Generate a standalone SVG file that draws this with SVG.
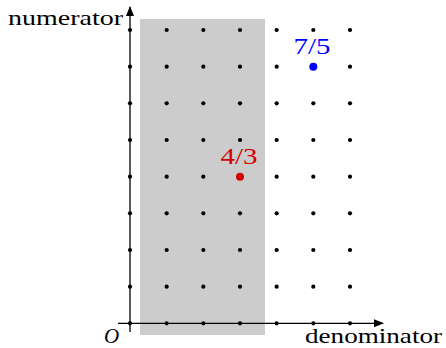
<svg xmlns="http://www.w3.org/2000/svg" width="446" height="348" viewBox="0 0 446 348">
<style>
.lbl{font-family:'Liberation Serif','Times New Roman','DejaVu Serif',serif;font-size:21px;fill:#000}
.frac{font-family:'Liberation Serif','Times New Roman','DejaVu Serif',serif;font-size:24px}
.axis{stroke:#000;stroke-width:1.3;fill:none}
.dot{fill:#000}
</style>
<defs>
<marker id="arr" viewBox="0 0 10 10" refX="9" refY="5" markerWidth="10" markerHeight="10" markerUnits="userSpaceOnUse" orient="auto">
<path d="M0,1 L10,5 L0,9 Z" fill="#000"/>
</marker>
<g id="row">
<circle cx="130" cy="0" r="2.1"/><circle cx="166.67" cy="0" r="2.1"/><circle cx="203.33" cy="0" r="2.1"/><circle cx="240" cy="0" r="2.1"/><circle cx="276.67" cy="0" r="2.1"/><circle cx="313.33" cy="0" r="2.1"/><circle cx="350" cy="0" r="2.1"/>
</g>
</defs>
<rect id="region" x="140" y="19" width="125" height="316" fill="#cccccc"/>
<g id="connectors">
<line class="axis" x1="130" y1="332" x2="130" y2="7" marker-end="url(#arr)"/>
<line class="axis" x1="118" y1="323.33" x2="383" y2="323.33" marker-end="url(#arr)"/>
</g>
<g id="grid" class="dot">
<use href="#row" y="30"/>
<use href="#row" y="66.67"/>
<use href="#row" y="103.33"/>
<use href="#row" y="140"/>
<use href="#row" y="176.67"/>
<use href="#row" y="213.33"/>
<use href="#row" y="250"/>
<use href="#row" y="286.67"/>
<use href="#row" y="323.33"/>
</g>
<g id="p75">
<circle cx="313.33" cy="66.67" r="4" fill="#0000ff"/>
<text class="frac" x="312" y="54" text-anchor="middle" textLength="37" lengthAdjust="spacingAndGlyphs" fill="#0000ff">7/5</text>
</g>
<g id="p43">
<circle cx="240" cy="176.67" r="4" fill="#d40000"/>
<text class="frac" x="239" y="164" text-anchor="middle" textLength="37" lengthAdjust="spacingAndGlyphs" fill="#d40000">4/3</text>
</g>
<g id="labels">
<text class="lbl" x="8" y="25" textLength="115" lengthAdjust="spacingAndGlyphs">numerator</text>
<text class="lbl" x="305" y="343" textLength="137" lengthAdjust="spacingAndGlyphs">denominator</text>
<text class="lbl" x="104" y="343" font-style="italic">O</text>
</g>
</svg>
